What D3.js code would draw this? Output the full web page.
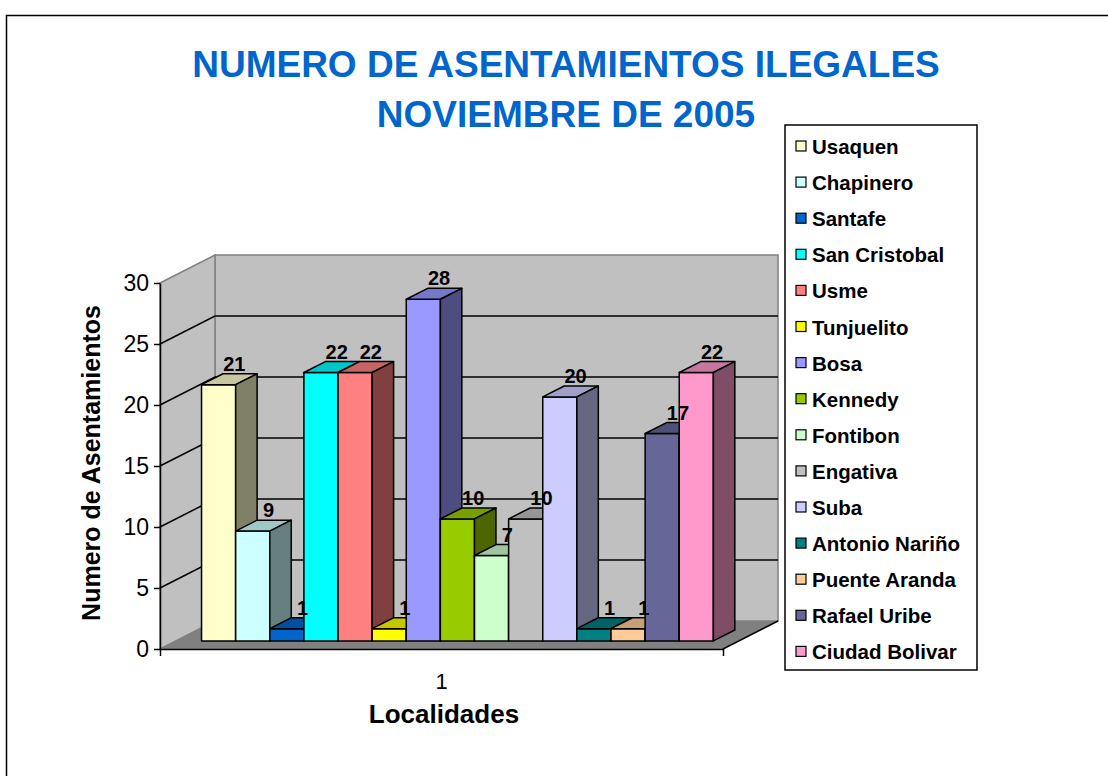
<!DOCTYPE html>
<html>
<head>
<meta charset="utf-8">
<script src="https://cdn.jsdelivr.net/npm/d3@7"></script>
<style>
  body { margin: 0; background: #fff; }
  svg { display: block; font-family: "Liberation Sans", Arial, sans-serif; }
</style>
</head>
<body>
<div id="chart"></div>
<script>
(function () {
    'use strict';

    // --- 1. DATA ---
    const titleLines = ["NUMERO DE ASENTAMIENTOS ILEGALES", "NOVIEMBRE DE 2005"];
    const localidades = ["Usaquen", "Chapinero", "Santafe", "San Cristobal", "Usme", "Tunjuelito", "Bosa",
        "Kennedy", "Fontibon", "Engativa", "Suba", "Antonio Nariño", "Puente Aranda", "Rafael Uribe", "Ciudad Bolivar"];
    const asentamientos = [21, 9, 1, 22, 22, 1, 28, 10, 7, 10, 20, 1, 1, 17, 22];
    const barColors = ["#FFFFCC", "#CCFFFF", "#0066CC", "#00FFFF", "#FF8080", "#FFFF00", "#9999FF",
        "#99CC00", "#CCFFCC", "#C0C0C0", "#CCCCFF", "#008080", "#FFCC99", "#666699", "#FF99CC"];
    const yTicks = [0, 5, 10, 15, 20, 25, 30];
    const categories = ["1"];

    // --- 2. LAYOUT ---
    const W = 1108, H = 776;
    const plot = { left: 160, right: 723, bottom: 649, top: 283 };
    const depthX = 55, depthY = -28;      // oblique offset of the full floor depth
    const barFront = 0.29, barBack = 0.68; // bar position inside the depth

    const svg = d3.select("#chart").append("svg")
        .attr("width", W).attr("height", H);

    // outer chart border (runs off the page right and bottom)
    svg.append("rect")
        .attr("x", 6.5).attr("y", 15.5)
        .attr("width", W + 20).attr("height", H + 20)
        .attr("fill", "none").attr("stroke", "#000").attr("stroke-width", 1.5);

    // --- 3. SCALES ---
    const yScale = d3.scaleLinear().domain([0, 30]).range([plot.bottom, plot.top]);
    const xBand = d3.scaleBand().domain(localidades)
        .range([plot.left, plot.right]).paddingInner(0).paddingOuter(0.75);
    const xCat = d3.scaleBand().domain(categories).range([plot.left, plot.right]);

    // project (x on front plane, value, depth 0..1) to screen
    const proj = (x, v, d) => [x + d * depthX, yScale(v) + d * depthY];
    const poly = pts => pts.map(p => p.join(",")).join(" ");

    const shade = (c, k) => {
        const r = d3.rgb(c);
        return d3.rgb(r.r * k, r.g * k, r.b * k).formatHex();
    };

    // --- 4. WALLS & FLOOR ---
    const x0 = plot.left, x1 = plot.right;
    svg.append("polygon")
        .attr("points", poly([proj(x0, 30, 1), proj(x1, 30, 1), proj(x1, 0, 1), proj(x0, 0, 1)]))
        .attr("fill", "#C0C0C0").attr("stroke", "#808080").attr("stroke-width", 1.5);
    svg.append("polygon")
        .attr("points", poly([proj(x0, 30, 0), proj(x0, 30, 1), proj(x0, 0, 1), proj(x0, 0, 0)]))
        .attr("fill", "#C0C0C0").attr("stroke", "#808080").attr("stroke-width", 1.5);

    // gridlines on side wall and back wall
    const gridTicks = yTicks.filter(t => t > 0 && t < 30);
    svg.selectAll(".grid").data(gridTicks).enter().append("polyline")
        .attr("points", t => poly([proj(x0, t, 0), proj(x0, t, 1), proj(x1, t, 1)]))
        .attr("fill", "none").attr("stroke", "#000").attr("stroke-width", 1.5);

    svg.append("polygon")
        .attr("points", poly([proj(x0, 0, 0), proj(x1, 0, 0), proj(x1, 0, 1), proj(x0, 0, 1)]))
        .attr("fill", "#808080").attr("stroke", "none");
    svg.append("line")
        .attr("x1", proj(x1, 0, 0)[0]).attr("y1", proj(x1, 0, 0)[1])
        .attr("x2", proj(x1, 0, 1)[0]).attr("y2", proj(x1, 0, 1)[1])
        .attr("stroke", "#000").attr("stroke-width", 1.5);

    // --- 5. BARS ---
    const bw = xBand.bandwidth();
    const bars = svg.selectAll(".bar").data(localidades).enter().append("g")
        .attr("class", "bar")
        .attr("stroke", "#000").attr("stroke-width", 1.5).attr("stroke-linejoin", "round");

    bars.each(function (name, i) {
        const g = d3.select(this);
        const v = asentamientos[i];
        const c = barColors[i];
        const a = xBand(name), b = a + bw;
        // front
        g.append("polygon").attr("fill", c)
            .attr("points", poly([proj(a, 0, barFront), proj(b, 0, barFront), proj(b, v, barFront), proj(a, v, barFront)]));
        // top
        g.append("polygon").attr("fill", shade(c, 0.78))
            .attr("points", poly([proj(a, v, barFront), proj(b, v, barFront), proj(b, v, barBack), proj(a, v, barBack)]));
        // right side
        g.append("polygon").attr("fill", shade(c, 0.5))
            .attr("points", poly([proj(b, 0, barFront), proj(b, v, barFront), proj(b, v, barBack), proj(b, 0, barBack)]));
    });

    // value labels
    svg.selectAll(".val").data(localidades).enter().append("text")
        .attr("x", (d, i) => proj(xBand(d) + bw / 2, asentamientos[i], (barFront + barBack) / 2)[0] + 5)
        .attr("y", (d, i) => proj(xBand(d), asentamientos[i], barBack)[1] - 3)
        .attr("text-anchor", "middle")
        .attr("font-size", 20).attr("font-weight", "bold")
        .text((d, i) => asentamientos[i]);

    // --- 6. AXES ---
    const yAxis = svg.append("g")
        .attr("transform", `translate(${plot.left},0)`)
        .call(d3.axisLeft(yScale).tickValues(yTicks).tickSizeInner(6).tickSizeOuter(0).tickPadding(5));
    yAxis.select(".domain").attr("stroke-width", 1.5);
    yAxis.selectAll(".tick line").attr("stroke-width", 1.5);
    yAxis.selectAll(".tick text")
        .attr("font-size", 23).attr("font-family", "Liberation Sans, Arial, sans-serif").attr("fill", "#000");

    const xAxis = svg.append("g")
        .attr("transform", `translate(0,${plot.bottom})`)
        .call(d3.axisBottom(xCat).tickSizeInner(0).tickSizeOuter(7).tickPadding(24));
    xAxis.select(".domain").attr("stroke-width", 1.5);
    xAxis.selectAll(".tick text")
        .attr("font-size", 22).attr("font-family", "Liberation Sans, Arial, sans-serif").attr("fill", "#000");

    // axis titles
    svg.append("text")
        .attr("transform", "translate(100,463) rotate(-90)")
        .attr("text-anchor", "middle")
        .attr("font-size", 25).attr("font-weight", "bold")
        .text("Numero de Asentamientos");
    svg.append("text")
        .attr("x", 444).attr("y", 723)
        .attr("text-anchor", "middle")
        .attr("font-size", 26).attr("font-weight", "bold")
        .text("Localidades");

    // --- 7. TITLE ---
    svg.selectAll(".title").data(titleLines).enter().append("text")
        .attr("x", 566).attr("y", (d, i) => 77 + i * 50)
        .attr("text-anchor", "middle")
        .attr("font-size", 37).attr("font-weight", "bold")
        .attr("fill", "#0066CC")
        .text(d => d);

    // --- 8. LEGEND ---
    const step = 36.1;
    svg.append("rect")
        .attr("x", 785).attr("y", 125).attr("width", 192).attr("height", 545)
        .attr("fill", "#fff").attr("stroke", "#000").attr("stroke-width", 1.5);
    const items = svg.selectAll(".legend").data(localidades).enter().append("g")
        .attr("transform", (d, i) => `translate(0,${i * step})`);
    items.append("rect")
        .attr("x", 796).attr("y", 141).attr("width", 10).attr("height", 10)
        .attr("fill", (d, i) => barColors[i]).attr("stroke", "#000").attr("stroke-width", 1.2);
    items.append("text")
        .attr("x", 812).attr("y", 154)
        .attr("font-size", 20.5).attr("font-weight", "bold")
        .text(d => d);
})();
</script>
</body>
</html>
